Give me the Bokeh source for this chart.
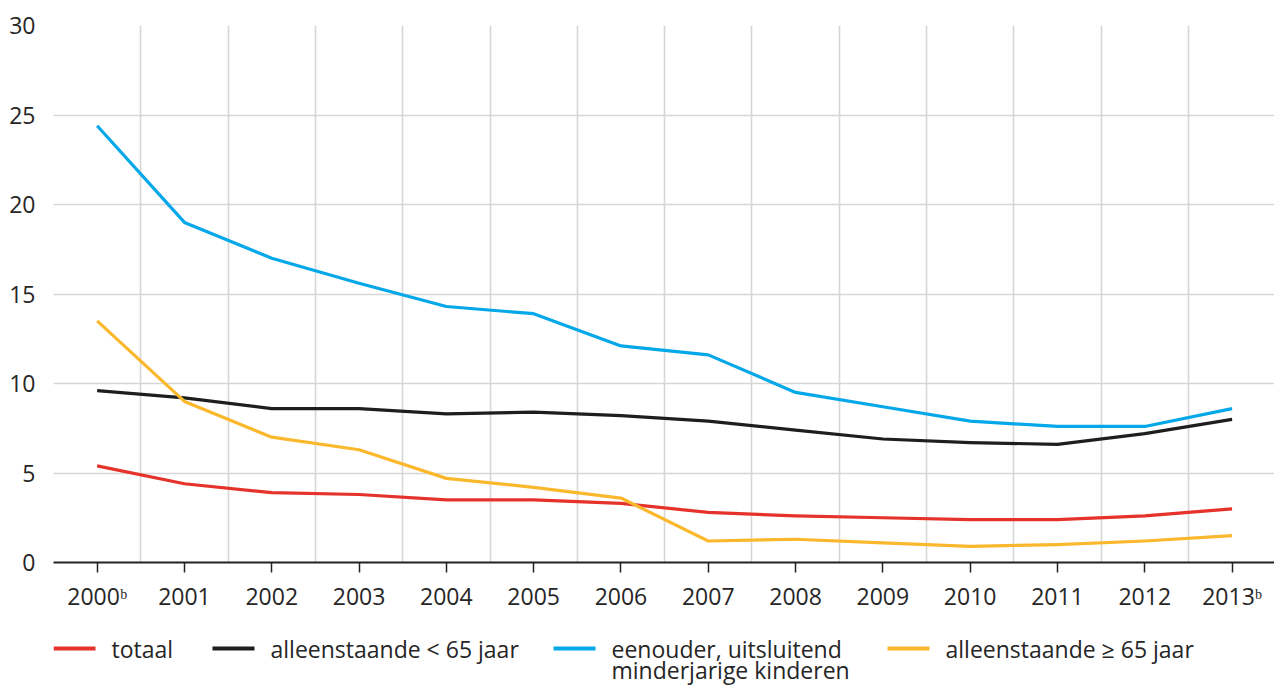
from bokeh.plotting import figure
from bokeh.models import Range1d, FixedTicker, ColumnDataSource
from bokeh.layouts import column
from bokeh.embed import file_html
from bokeh.resources import INLINE
from bokeh.core.properties import value

years = [2000, 2001, 2002, 2003, 2004, 2005, 2006, 2007, 2008, 2009, 2010, 2011, 2012, 2013]
year_labels = ["2000ᵇ", "2001", "2002", "2003", "2004", "2005", "2006", "2007",
               "2008", "2009", "2010", "2011", "2012", "2013ᵇ"]
totaal = [5.4, 4.4, 3.9, 3.8, 3.5, 3.5, 3.3, 2.8, 2.6, 2.5, 2.4, 2.4, 2.6, 3.0]
alleen_lt65 = [9.6, 9.2, 8.6, 8.6, 8.3, 8.4, 8.2, 7.9, 7.4, 6.9, 6.7, 6.6, 7.2, 8.0]
eenouder = [24.4, 19.0, 17.0, 15.6, 14.3, 13.9, 12.1, 11.6, 9.5, 8.7, 7.9, 7.6, 7.6, 8.6]
alleen_ge65 = [13.5, 9.0, 7.0, 6.3, 4.7, 4.2, 3.6, 1.2, 1.3, 1.1, 0.9, 1.0, 1.2, 1.5]
y_ticks = [0, 5, 10, 15, 20, 25, 30]

series_names = ["totaal", "alleenstaande < 65 jaar",
                "eenouder, uitsluitend\nminderjarige kinderen", "alleenstaande ≥ 65 jaar"]
series_values = [totaal, alleen_lt65, eenouder, alleen_ge65]
colors = ["#e5322b", "#1e1e1e", "#04a8e8", "#fbb82d"]

FONT = "Open Sans"
TXT = "#262626"

p = figure(width=1274, height=614, output_backend="svg", toolbar_location=None,
           x_range=Range1d(1999.5, 2013.486), y_range=Range1d(0, 30.0),
           min_border_left=53, min_border_right=0, min_border_top=25, min_border_bottom=52)
p.outline_line_color = None
p.background_fill_color = "white"

for vals, col in zip(series_values, colors):
    p.line(years, vals, line_color=col, line_width=3.2, line_join="round")

# grids
p.xgrid.ticker = FixedTicker(ticks=[y - 0.5 for y in years] + [years[-1] + 0.5])
p.xgrid.grid_line_color = "#d6d6d6"
p.xgrid.grid_line_width = 1.6
p.ygrid.ticker = FixedTicker(ticks=y_ticks)
p.ygrid.grid_line_color = "#d6d6d6"
p.ygrid.grid_line_width = 1.6

# x axis
xa = p.xaxis[0]
xa.ticker = FixedTicker(ticks=years)
xa.major_label_overrides = {y: l for y, l in zip(years, year_labels)}
xa.axis_line_color = "#222222"
xa.axis_line_width = 2
xa.major_tick_line_color = "#222222"
xa.major_tick_line_width = 1.5
xa.major_tick_out = 10
xa.major_tick_in = 0
xa.minor_tick_line_color = None
xa.major_label_standoff = 7
xa.major_label_text_font = FONT
xa.major_label_text_font_size = "23px"
xa.major_label_text_color = TXT

ya = p.yaxis[0]
ya.ticker = FixedTicker(ticks=y_ticks)
ya.axis_line_color = None
ya.major_tick_line_color = None
ya.minor_tick_line_color = None
ya.major_label_standoff = 12
ya.major_label_text_font = FONT
ya.major_label_text_font_size = "23px"
ya.major_label_text_color = TXT

# legend figure (page-pixel coordinates; its frame is aligned with the main frame at x=53)
lg = figure(width=1274, height=72, output_backend="svg", toolbar_location=None,
            x_range=Range1d(53, 1274), y_range=Range1d(686, 614),
            min_border=0)
lg.axis.visible = False
lg.grid.visible = False
lg.outline_line_color = None

sw_x = [53, 212, 553, 887]
lsrc = ColumnDataSource(dict(x0=sw_x, x1=[x + 42 for x in sw_x], y=[648] * 4, color=colors))
lg.segment(x0="x0", x1="x1", y0="y", y1="y", line_color="color", line_width=4, source=lsrc)

tx, ty, tt = [], [], []
for x, name in zip(sw_x, series_names):
    for i, line in enumerate(name.split("\n")):
        tx.append(x + 58)
        ty.append(648 + 21 * i)
        tt.append(line)
tsrc = ColumnDataSource(dict(x=tx, y=ty, text=tt))
lg.text(x="x", y="y", text="text", text_font=value(FONT), text_font_size="23px",
        text_color=TXT, text_baseline="middle", text_align="left", source=tsrc)

layout = column(p, lg, spacing=0)
open("out.html", "w").write(file_html(layout, INLINE))
